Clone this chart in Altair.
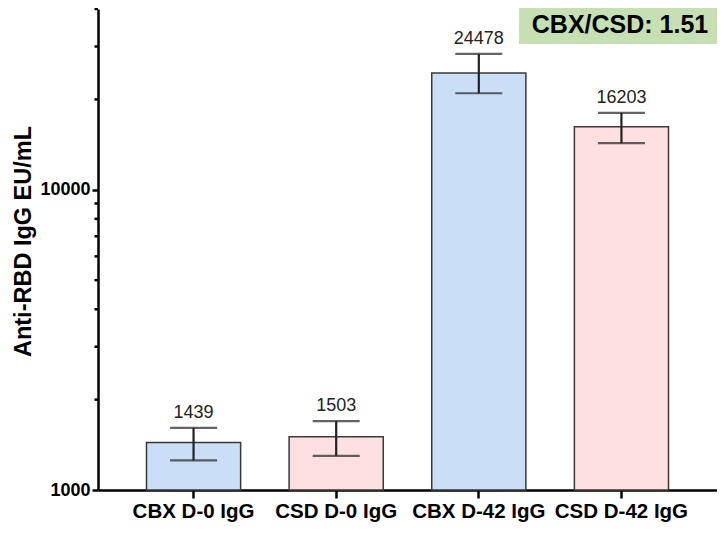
import altair as alt
import pandas as pd

groups = ["CBX D-0 IgG", "CSD D-0 IgG", "CBX D-42 IgG", "CSD D-42 IgG"]
means = [1439, 1503, 24478, 16203]
lows = [1255, 1300, 20960, 14290]
highs = [1611, 1696, 28340, 18030]
fills = ["#cadff7", "#fde0df", "#cadff7", "#fde0df"]
major_ticks = [1000, 10000]
minor_ticks = [2000, 3000, 4000, 5000, 6000, 7000, 8000, 9000, 20000, 30000, 40000]
ratio_text = "CBX/CSD: 1.51"

df = pd.DataFrame({"group": groups, "mean": means, "low": lows, "high": highs,
                   "fill": fills, "base": [1000] * 4,
                   "label": [str(m) for m in means]})
minor_df = pd.DataFrame({"v": minor_ticks})

FONT = "Liberation Sans"

x = alt.X("group:N", sort=groups, title=None,
          scale=alt.Scale(paddingInner=0.34, paddingOuter=0.34),
          axis=alt.Axis(labelAngle=0, labelFont=FONT, labelFontSize=20.5,
                        labelFontWeight="bold", labelColor="black", labelPadding=3,
                        tickSize=8, tickWidth=2.5, tickColor="black",
                        domainColor="black", domainWidth=2.5))
yscale = alt.Scale(type="log", domain=[1000, 40000], nice=False)
y = alt.Y("mean:Q", scale=yscale,
          axis=alt.Axis(values=major_ticks, format="d", title="Anti-RBD IgG EU/mL",
                        titleFont=FONT, titleFontSize=23.5, titleFontWeight="bold",
                        titleColor="black", titleX=-63, titleY=232,
                        labelFont=FONT, labelFontSize=18, labelFontWeight="bold",
                        labelColor="black", labelPadding=2,
                        tickSize=6, tickWidth=2.5, tickColor="black",
                        domainColor="black", domainWidth=2.5, grid=False))

base = alt.Chart(df)
bars = base.mark_bar(stroke="#3a3a3a", strokeWidth=1.5).encode(
    x=x, y=y, y2="base:Q", fill=alt.Fill("fill:N", scale=None))
err = base.mark_rule(color="#222222", strokeWidth=2.2).encode(
    x=alt.X("group:N", sort=groups), y=alt.Y("low:Q", scale=yscale), y2="high:Q")
cap_hi = base.mark_tick(color="#222222", thickness=2.2, size=47, orient="horizontal").encode(
    x=alt.X("group:N", sort=groups), y=alt.Y("high:Q", scale=yscale))
cap_lo = base.mark_tick(color="#222222", thickness=2.2, size=47, orient="horizontal").encode(
    x=alt.X("group:N", sort=groups), y=alt.Y("low:Q", scale=yscale))
labels = base.mark_text(font=FONT, fontSize=18, baseline="bottom", dy=-6, color="#222222").encode(
    x=alt.X("group:N", sort=groups), y=alt.Y("high:Q", scale=yscale), text="label:N")
minor = alt.Chart(minor_df).mark_rule(color="black", strokeWidth=2.5).encode(
    y=alt.Y("v:Q", scale=yscale), x=alt.value(-3.5), x2=alt.value(0))
box = alt.Chart(pd.DataFrame({"t": [ratio_text]})).mark_rect(color="#c6e0b4").encode(
    x=alt.value(421), x2=alt.value(625), y=alt.value(-1), y2=alt.value(35))
box_text = alt.Chart(pd.DataFrame({"t": [ratio_text]})).mark_text(
    font=FONT, fontSize=25, fontWeight="bold", color="black", align="center",
    baseline="middle").encode(x=alt.value(522), y=alt.value(16), text="t:N")

chart = alt.layer(bars, err, cap_hi, cap_lo, labels, minor, box, box_text).properties(
    width=619, height=481,
    autosize=alt.AutoSizeParams(type="none"),
    padding={"left": 90, "top": 1, "right": 0, "bottom": 34},
).configure_view(stroke=None)

chart.save("out.html", embed_options={"renderer": "svg", "actions": False})
